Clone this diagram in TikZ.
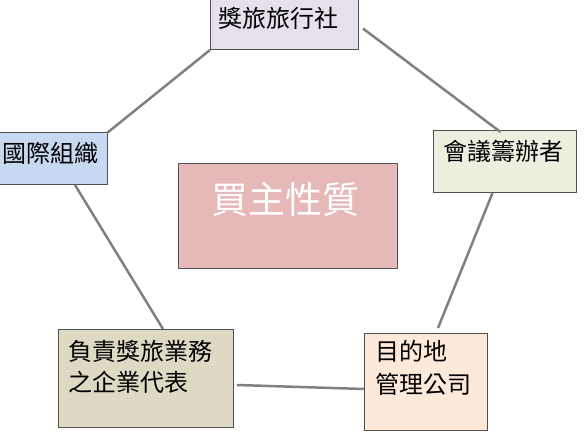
\documentclass[tikz,border=0pt]{standalone}
\usepackage{fontspec}
\setmainfont{Noto Sans CJK TC}
\usetikzlibrary{calc}
\definecolor{boxline}{HTML}{505050}
\definecolor{conn}{HTML}{808080}
\definecolor{cTop}{HTML}{E5E0EC}
\definecolor{cLeft}{HTML}{C6D9F1}
\definecolor{cRight}{HTML}{EBF1DE}
\definecolor{cCenter}{HTML}{E6B9B8}
\definecolor{cBL}{HTML}{DDD9C3}
\definecolor{cBR}{HTML}{FDE9D9}
\tikzset{
  boxnode/.style={draw=boxline, line width=1pt, inner sep=0pt, outer sep=0pt, anchor=north west},
  lbl/.style={anchor=west, inner sep=0pt, font=\fontsize{24}{30}\selectfont, align=left},
  bigl/.style={anchor=west, inner sep=0pt, font=\fontsize{37}{40}\selectfont, text=white},
  connector/.style={draw=conn, line width=2.5pt}
}
\begin{document}
\begin{tikzpicture}[x=1pt,y=-1pt]
\useasboundingbox (0,0) rectangle (587,433);
\node[boxnode, fill=cTop, minimum width=148pt, minimum height=51pt] (top) at (210,-1) {};
\node[boxnode, fill=cLeft, minimum width=117pt, minimum height=52pt] (left) at (-10,133) {};
\node[boxnode, fill=cRight, minimum width=143pt, minimum height=62pt] (right) at (433,131) {};
\node[boxnode, fill=cCenter, minimum width=219pt, minimum height=104pt] (center) at (178,164) {};
\node[boxnode, fill=cBL, minimum width=175pt, minimum height=98pt] (bl) at (58,329) {};
\node[boxnode, fill=cBR, minimum width=123pt, minimum height=97pt] (br) at (364,333) {};

\node[lbl] (ttop) at (218,18) {獎旅旅行社};
\node[lbl] (tleft) at (2,153) {國際組織};
\node[lbl] (tright) at (443,151) {會議籌辦者};
\node[bigl] (tcenter) at (211,200) {買主性質};
\node[lbl] (tbl1) at (68,351) {負責獎旅業務};
\node[lbl] (tbl2) at (68,382) {之企業代表};
\node[lbl] (tbr1) at (375,351) {目的地};
\node[lbl] (tbr2) at (375,384) {管理公司};

\draw[connector] (top.south west) -- (left.north east);
\draw[connector] ($(top.east)+(5,4)$) -- ($(right.north)+(-4,1)$);
\draw[connector] ($(right.south)+(-12,0)$) -- ($(br.north)+(12.5,-5)$);
\draw[connector] ($(left.south)+(26.5,0)$) -- ($(bl.north)+(17.5,0)$);
\draw[connector] ($(bl.east)+(4,7)$) -- ($(br.west)+(0,7.5)$);
\end{tikzpicture}
\end{document}
